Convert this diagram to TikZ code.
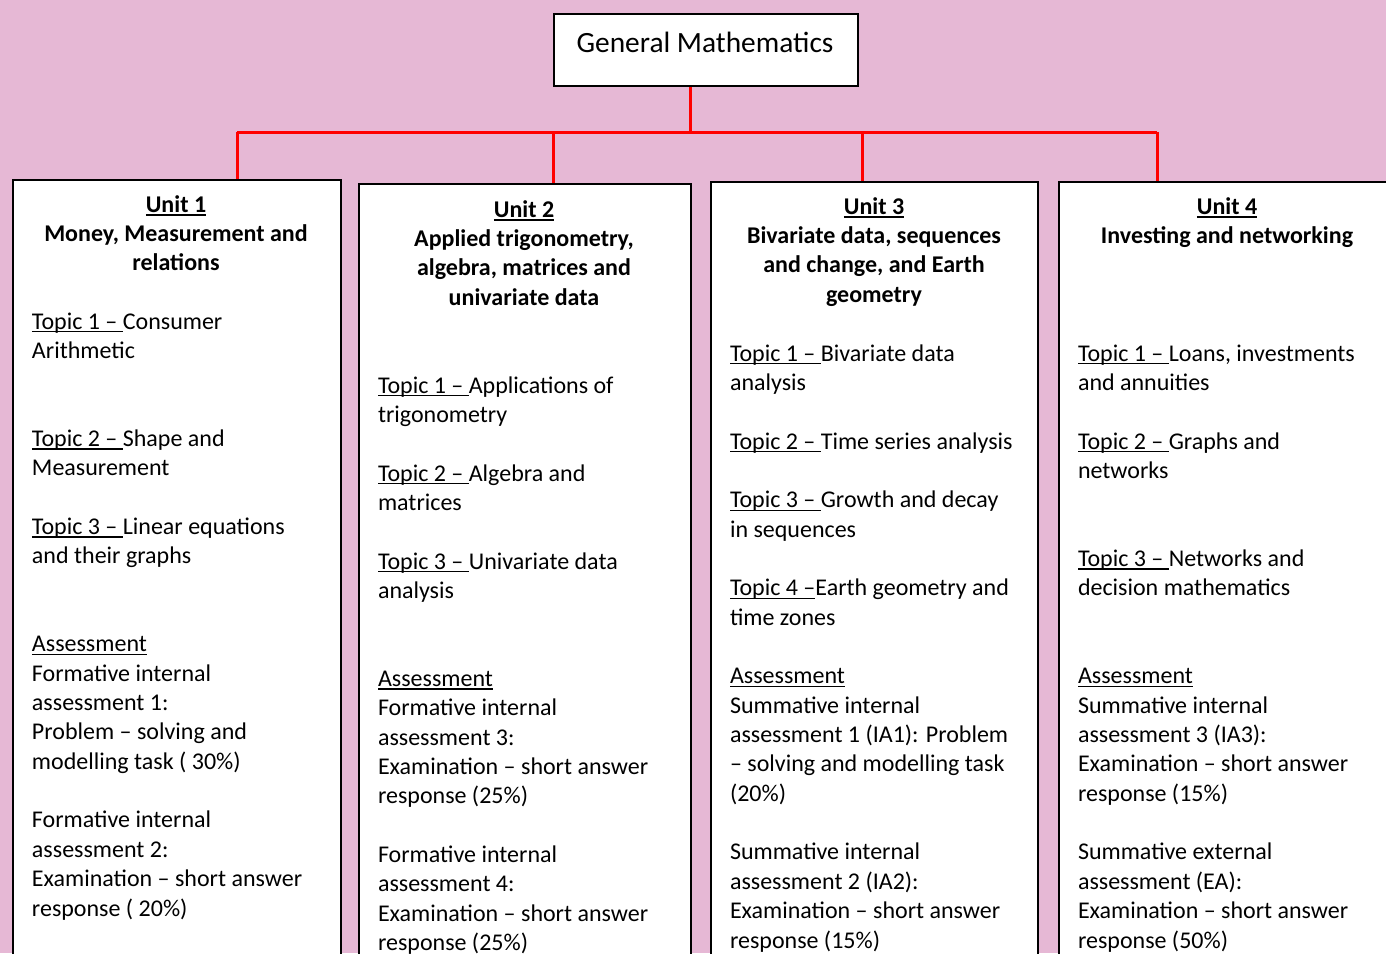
\documentclass[tikz,border=0pt]{standalone}
\usepackage{fontspec}
\setmainfont{Carlito}
\definecolor{pinkbg}{RGB}{230,184,213}
\definecolor{linkred}{RGB}{255,0,0}
\newcommand\myul[1]{\leavevmode\setbox0=\hbox{#1}\rlap{\rule[-1.6pt]{\wd0}{0.7pt}}\box0}
\newcommand\bul[1]{\leavevmode\setbox0=\hbox{#1}\rlap{\rule[-1.9pt]{\wd0}{1pt}}\box0}
\newcommand\bodyblock[1]{\vtop{\hsize=200pt\parindent=0pt\raggedright\fontsize{12pt}{14.675pt}\selectfont\leavevmode #1\par}}
\newcommand\headblock[1]{\vtop{\hsize=170pt\parindent=0pt\centering\fontsize{12pt}{14.675pt}\selectfont\bfseries\leavevmode #1\par}}
\tikzset{
  boxstyle/.style={draw=black, fill=white, line width=1pt, inner sep=0pt, anchor=north west},
  txt/.style={inner sep=0pt, outer sep=0pt},
  redline/.style={draw=linkred, line width=1.5pt},
}
\begin{document}
\begin{tikzpicture}[x=0.5pt,y=-0.5pt]
\useasboundingbox (0,0) rectangle (1386,953);
\clip (0,0) rectangle (1386,953);
\fill[pinkbg] (0,0) rectangle (1386,953);

% boxes
\node[boxstyle, minimum width=152pt, minimum height=36pt] (title) at (553,13) {};
\node[boxstyle, minimum width=164pt, minimum height=400pt] (u1) at (12,179) {};
\node[boxstyle, minimum width=166pt, minimum height=400pt] (u2) at (358,183) {};
\node[boxstyle, minimum width=163.5pt, minimum height=400pt] (u3) at (710,181) {};
\node[boxstyle, minimum width=170pt, minimum height=400pt] (u4) at (1058,181) {};

% connectors
\coordinate (j) at (690,132);
\coordinate (c1) at (237,132);
\coordinate (c2) at (553,132);
\coordinate (c3) at (862,132);
\coordinate (c4) at (1157,132);
\draw[redline] (title.south -| j) -- (j);
\draw[redline] (c1) -- (c4);
\draw[redline] (c1) -- (c1 |- u1.north);
\draw[redline] (c2) -- (c2 |- u2.north);
\draw[redline] (c3) -- (c3 |- u3.north);
\draw[redline] (c4) -- (c4 |- u4.north);

% title text
\node[txt, anchor=base, font=\fontsize{14.7pt}{17pt}\selectfont] (ttl) at (705,52) {General Mathematics};

% headings
\node[txt, anchor=base] (h1) at (176,212) {\headblock{\bul{Unit 1}\\Money, Measurement and\\relations}};
\node[txt, anchor=base] (h2) at (524,217) {\headblock{\bul{Unit 2}\\Applied trigonometry,\\algebra, matrices and\\univariate data}};
\node[txt, anchor=base] (h3) at (874,214) {\headblock{\bul{Unit 3}\\Bivariate data, sequences\\and change, and Earth\\geometry}};
\node[txt, anchor=base] (h4) at (1227,214) {\headblock{\bul{Unit 4}\\Investing and networking}};

% bodies
\node[txt, anchor=base west] (b1) at (32,329) {\bodyblock{%
\myul{Topic 1 –\ }Consumer\\
Arithmetic\\[29.35pt]
\myul{Topic 2 –\ }Shape and\\
Measurement\\[14.675pt]
\myul{Topic 3 –\ }Linear equations\\
and their graphs\\[29.35pt]
\myul{Assessment}\\
Formative internal\\
assessment 1:\\
Problem – solving and\\
modelling task ( 30\%)\\[14.675pt]
Formative internal\\
assessment 2:\\
Examination – short answer\\
response ( 20\%)}};

\node[txt, anchor=base west] (b2) at (378,393) {\bodyblock{%
\myul{Topic 1 –\ }Applications of\\
trigonometry\\[14.675pt]
\myul{Topic 2 –\ }Algebra and\\
matrices\\[14.675pt]
\myul{Topic 3 –\ }Univariate data\\
analysis\\[29.35pt]
\myul{Assessment}\\
Formative internal\\
assessment 3:\\
Examination – short answer\\
response (25\%)\\[14.675pt]
Formative internal\\
assessment 4:\\
Examination – short answer\\
response (25\%)}};

\node[txt, anchor=base west] (b3) at (730,361) {\bodyblock{%
\myul{Topic 1 –\ }Bivariate data\\
analysis\\[14.675pt]
\myul{Topic 2 –\ }Time series analysis\\[14.675pt]
\myul{Topic 3 –\ }Growth and decay\\
in sequences\\[14.675pt]
\myul{Topic 4 –}Earth geometry and\\
time zones\\[14.675pt]
\myul{Assessment}\\
Summative internal\\
assessment 1 (IA1): Problem\\
– solving and modelling task\\
(20\%)\\[14.675pt]
Summative internal\\
assessment 2 (IA2):\\
Examination – short answer\\
response (15\%)}};

\node[txt, anchor=base west] (b4) at (1078,361) {\bodyblock{%
\myul{Topic 1 –\ }Loans, investments\\
and annuities\\[14.675pt]
\myul{Topic 2 –\ }Graphs and\\
networks\\[29.35pt]
\myul{Topic 3 –\ }Networks and\\
decision mathematics\\[29.35pt]
\myul{Assessment}\\
Summative internal\\
assessment 3 (IA3):\\
Examination – short answer\\
response (15\%)\\[14.675pt]
Summative external\\
assessment (EA):\\
Examination – short answer\\
response (50\%)}};
\end{tikzpicture}
\end{document}
